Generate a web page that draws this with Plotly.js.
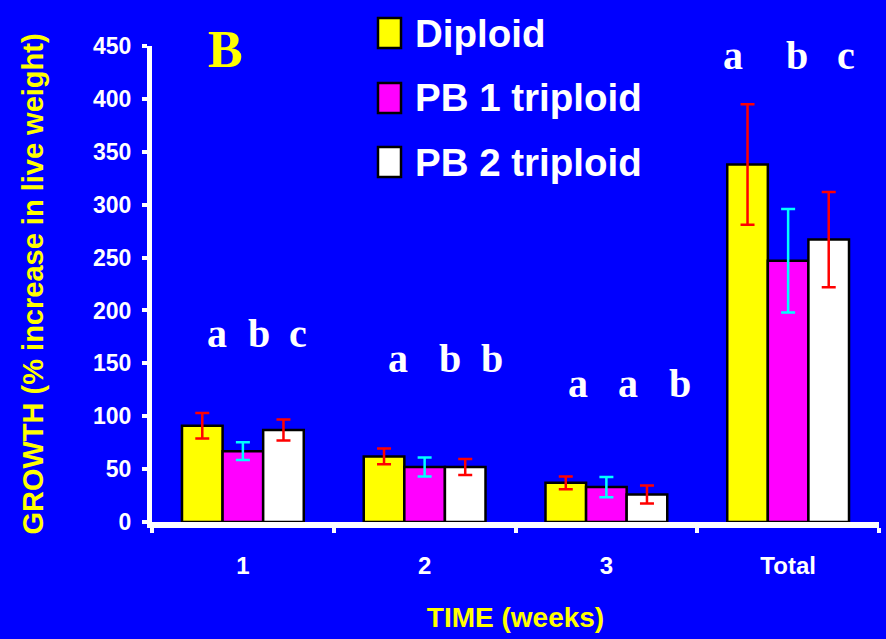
<!DOCTYPE html>
<html>
<head>
<meta charset="utf-8">
<script src="https://cdn.plot.ly/plotly-3.0.1.min.js"></script>
<style>html,body{margin:0;padding:0;background:#0000ff;}#chart{width:886px;height:639px;}</style>
</head>
<body>
<div id="chart"></div>
<script>
// ---- data ----
const categories = ['1', '2', '3', 'Total'];
const seriesNames = ['Diploid', 'PB 1 triploid', 'PB 2 triploid'];
const diploid = [91, 62, 37, 338];
const diploidErr = [12, 7.5, 6, 57];
const pb1 = [67, 52, 33, 247];
const pb1Err = [8.5, 9, 9.5, 49];
const pb2 = [87, 52, 26, 267];
const pb2Err = [10, 7.5, 8.5, 45];
const sigLetters = [['a', 'b', 'c'], ['a', 'b', 'b'], ['a', 'a', 'b'], ['a', 'b', 'c']];
const sigLetterY = [178, 155, 131, 441];
const yTicks = [0, 50, 100, 150, 200, 250, 300, 350, 400, 450];
const panelLabel = 'B';

// ---- styling ----
const W = 886, H = 639;
const M = {l: 152, r: 7, t: 46, b: 117};
const sans = "'Liberation Sans', Arial, sans-serif";
const serif = "'Liberation Serif', 'Times New Roman', serif";
const fills = ['#ffff00', '#ff00ff', '#ffffff'];
const errColors = ['#ff0000', '#00ffff', '#ff0000'];
const values = [diploid, pb1, pb2];
const errs = [diploidErr, pb1Err, pb2Err];

const pw = W - M.l - M.r, ph = H - M.t - M.b;
const px = v => (v - M.l) / pw;
const py = v => (H - M.b - v) / ph;

const traces = seriesNames.map((name, i) => ({
  type: 'bar', name: name, x: categories, y: values[i],
  marker: {color: fills[i], line: {color: '#000000', width: 2.5}},
  error_y: {type: 'data', array: errs[i], visible: true, color: errColors[i], thickness: 2.5, width: 7},
  showlegend: false, hoverinfo: 'skip'
}));

const letterOffsets = [
  [-0.144, 0.089, 0.303],
  [-0.148, 0.14, 0.369],
  [-0.158, 0.119, 0.405],
  [-0.303, 0.047, 0.317]
];
const annotations = [];
sigLetters.forEach((grp, g) => {
  grp.forEach((L, k) => {
    annotations.push({
      xref: 'x', yref: 'y', x: g + letterOffsets[g][k], y: sigLetterY[g],
      text: L, showarrow: false, xanchor: 'center', yanchor: 'middle',
      font: {family: serif, size: 40, color: '#ffffff', weight: 'bold'}
    });
  });
});
annotations.push({
  xref: 'paper', yref: 'paper', x: px(225), y: py(50), text: panelLabel, showarrow: false,
  xanchor: 'center', yanchor: 'middle',
  font: {family: serif, size: 52, color: '#ffff00', weight: 'bold'}
});

// manual legend
const legendRows = [33, 98, 162];
const shapes = [];
seriesNames.forEach((name, i) => {
  shapes.push({
    type: 'rect', xref: 'paper', yref: 'paper',
    x0: px(378), x1: px(401), y0: py(legendRows[i] - 15), y1: py(legendRows[i] + 15),
    fillcolor: fills[i], line: {color: '#000000', width: 2.5}
  });
  annotations.push({
    xref: 'paper', yref: 'paper', x: px(413), y: py(legendRows[i]), text: name,
    showarrow: false, xanchor: 'left', yanchor: 'middle',
    font: {family: sans, size: 38.5, color: '#ffffff', weight: 'bold'}
  });
});

const layout = {
  width: W, height: H,
  margin: M,
  paper_bgcolor: '#0000ff', plot_bgcolor: '#0000ff',
  barmode: 'group', bargap: 0.33, bargroupgap: 0,
  showlegend: false,
  xaxis: {
    type: 'category', showgrid: false, zeroline: false,
    showline: true, linecolor: '#ffffff', linewidth: 6,
    ticks: 'outside', tickson: 'boundaries', ticklen: 5, tickwidth: 4, tickcolor: '#ffffff',
    ticklabelstandoff: 17,
    tickfont: {family: sans, size: 24, color: '#ffffff', weight: 'bold'},
    title: {text: 'TIME (weeks)', standoff: 32, font: {family: sans, size: 28, color: '#ffff00', weight: 'bold'}},
    automargin: false, fixedrange: true
  },
  yaxis: {
    range: [0, 450], tickvals: yTicks, showgrid: false, zeroline: false,
    showline: true, linecolor: '#ffffff', linewidth: 5,
    ticks: 'outside', ticklen: 5, tickwidth: 4, tickcolor: '#ffffff',
    ticklabelstandoff: 6,
    tickfont: {family: sans, size: 23, color: '#ffffff', weight: 'bold'},
    title: {text: 'GROWTH (% increase in live weight)', standoff: 42, font: {family: sans, size: 29, color: '#ffff00', weight: 'bold'}},
    automargin: false, fixedrange: true
  },
  annotations: annotations,
  shapes: shapes
};

Plotly.newPlot('chart', traces, layout, {displayModeBar: false, staticPlot: true});
</script>
</body>
</html>
